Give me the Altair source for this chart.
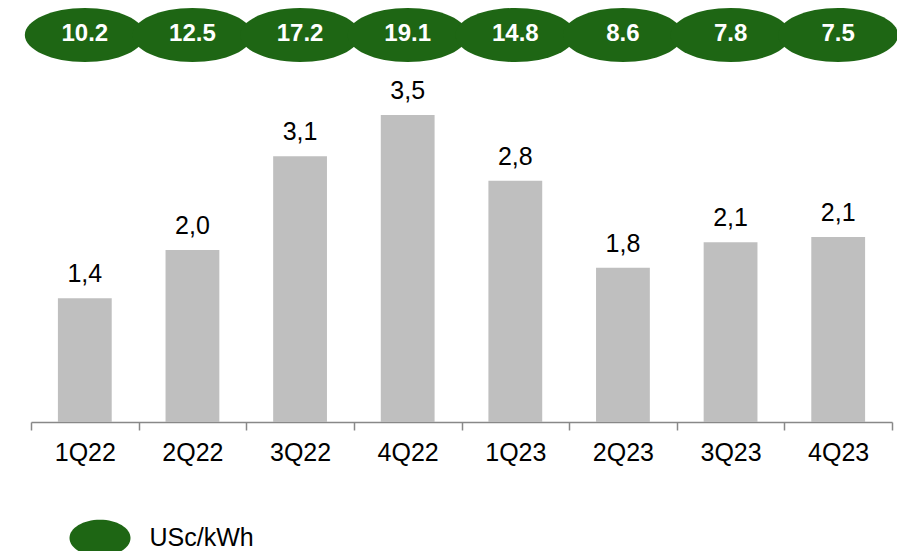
import altair as alt
import pandas as pd

quarters = ["1Q22", "2Q22", "3Q22", "4Q22", "1Q23", "2Q23", "3Q23", "4Q23"]
values = [1.41, 1.96, 3.03, 3.50, 2.75, 1.76, 2.05, 2.11]
labels = ["1,4", "2,0", "3,1", "3,5", "2,8", "1,8", "2,1", "2,1"]
prices = ["10.2", "12.5", "17.2", "19.1", "14.8", "8.6", "7.8", "7.5"]
series = ["USc/kWh"] * len(quarters)

df = pd.DataFrame({"q": quarters, "v": values, "lab": labels,
                   "price": prices, "series": series})

GREEN = "#1e6614"
FONT = "Liberation Sans"
ELLIPSE = "M -1 0 A 1 0.45 0 1 0 1 0 A 1 0.45 0 1 0 -1 0 Z"
LEG_ELLIPSE = "M -1 0 A 1 0.6 0 1 0 1 0 A 1 0.6 0 1 0 -1 0 Z"

x = alt.X("q:N", sort=quarters, title=None,
          scale=alt.Scale(paddingInner=0, paddingOuter=0),
          axis=alt.Axis(labelAngle=0, labelFontSize=25, labelFont=FONT,
                        labelColor="#000000", labelPadding=10,
                        domainColor="#888888", domainWidth=1.5,
                        ticks=True,
                        tickColor="#888888", tickWidth=1.5, tickSize=8,
                        tickBand="extent"))
y = alt.Y("v:Q", title=None, axis=None,
          scale=alt.Scale(domain=[0, 4.606], nice=False, zero=True))

base = alt.Chart(df)

bars = base.mark_bar(color="#bfbfbf",
                     width=alt.RelativeBandSize(0.5)).encode(x=x, y=y)

bar_text = base.mark_text(fontSize=25, font=FONT, color="#000000",
                          baseline="alphabetic", dy=-16).encode(
    x=x, y=y, text="lab:N")

ellipses = base.mark_point(shape=ELLIPSE, size=14400, filled=True,
                           opacity=1, strokeWidth=0).encode(
    x=x, y=alt.value(17),
    color=alt.Color("series:N",
                    scale=alt.Scale(domain=["USc/kWh"], range=[GREEN]),
                    legend=alt.Legend(title=None, orient="none",
                                      legendX=38.5, legendY=489.5,
                                      padding=0,
                                      symbolType=LEG_ELLIPSE,
                                      symbolSize=3721,
                                      symbolStrokeWidth=0,
                                      symbolOpacity=1,
                                      labelFontSize=25, labelFont=FONT,
                                      labelColor="#000000",
                                      labelOffset=19)))

ell_text = base.mark_text(fontSize=24, font=FONT, fontWeight="bold",
                          color="white", baseline="middle", dy=0).encode(
    x=x, y=alt.value(16), text="price:N")

chart = alt.layer(bars, bar_text, ellipses, ell_text).properties(
    width=861, height=404,
    autosize=alt.AutoSizeParams(type="none"),
    padding={"left": 23, "top": 10, "right": 5, "bottom": 129},
).configure_view(stroke=None)

chart.save("out.html", embed_options={"renderer": "svg", "actions": False})
